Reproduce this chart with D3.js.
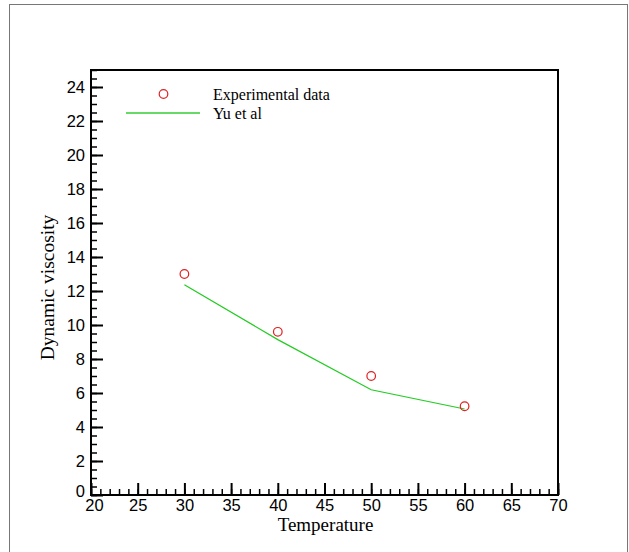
<!DOCTYPE html>
<html>
<head>
<meta charset="utf-8">
<script src="https://cdnjs.cloudflare.com/ajax/libs/d3/7.8.5/d3.min.js"></script>
<style>
  body { margin: 0; background: #fff; }
  .tick text { font-family: "Liberation Sans", Arial, sans-serif; font-size: 16.5px; fill: #000; }
  .serif { font-family: "Liberation Serif", "Times New Roman", serif; fill: #000; }
</style>
</head>
<body>
<svg class="chart"></svg>
<script>
var width = 629,
    height = 552;

// data
var temps = [30, 40, 50, 60];
var experimental = [13.0, 9.6, 7.0, 5.22];
var yuEtAl = [12.37, 9.14, 6.19, 5.06];
var xTicks = [20, 25, 30, 35, 40, 45, 50, 55, 60, 65, 70];
var yTicks = [0, 2, 4, 6, 8, 10, 12, 14, 16, 18, 20, 22, 24];

var plotLeft = 91, plotRight = 558, plotTop = 70, plotBottom = 495;

var xscale = d3.scaleLinear().domain([20, 70]).range([plotLeft, plotRight]);
var yscale = d3.scaleLinear().domain([0, 25]).range([plotBottom, plotTop]);

var chart = d3.select(".chart")
    .attr("width", width)
    .attr("height", height);

// outer page frame
chart.append("rect")
  .attr("x", 9.5).attr("y", 4.5)
  .attr("width", 618).attr("height", 560)
  .attr("fill", "none")
  .attr("stroke", "#777")
  .attr("stroke-width", 1);

// minor ticks
chart.append("g")
  .attr("transform", "translate(0," + plotBottom + ")")
  .call(d3.axisBottom(xscale).tickValues(d3.range(20, 71, 1)).tickSize(-6).tickFormat(""))
  .call(function(g) { g.select(".domain").remove(); })
  .selectAll("line").attr("stroke-width", 1.5);

chart.append("g")
  .attr("transform", "translate(" + plotLeft + ",0)")
  .call(d3.axisLeft(yscale).tickValues(d3.range(0, 25.01, 0.5)).tickSize(-6).tickFormat(""))
  .call(function(g) { g.select(".domain").remove(); })
  .selectAll("line").attr("stroke-width", 1.5);

// major ticks + labels
var xAxis = chart.append("g")
  .attr("transform", "translate(0," + plotBottom + ")")
  .call(d3.axisBottom(xscale).tickValues(xTicks).tickSizeInner(-12).tickSizeOuter(0).tickPadding(4));
xAxis.selectAll("line").attr("stroke-width", 2);
xAxis.selectAll("text").filter(function(d) { return d == 20; }).attr("dx", "3");

var yAxis = chart.append("g")
  .attr("transform", "translate(" + plotLeft + ",0)")
  .call(d3.axisLeft(yscale).tickValues(yTicks).tickSizeInner(-12).tickSizeOuter(0).tickPadding(6));
yAxis.selectAll("line").attr("stroke-width", 2);
yAxis.selectAll("text").filter(function(d) { return d == 0; }).attr("dy", "0.1em");

chart.selectAll(".domain").remove();

// plot frame
chart.append("rect")
  .attr("x", plotLeft).attr("y", plotTop)
  .attr("width", plotRight - plotLeft).attr("height", plotBottom - plotTop)
  .attr("fill", "none")
  .attr("stroke", "#000")
  .attr("stroke-width", 2);

// Yu et al line
var line = d3.line()
  .x(function(d, i) { return xscale(temps[i]); })
  .y(function(d) { return yscale(d); });

chart.append("path")
  .datum(yuEtAl)
  .attr("d", line)
  .attr("fill", "none")
  .attr("stroke", "#22cc22")
  .attr("stroke-width", 1.2);

// experimental points
chart.selectAll(".pt")
  .data(experimental)
  .enter().append("circle")
  .attr("class", "pt")
  .attr("cx", function(d, i) { return xscale(temps[i]); })
  .attr("cy", function(d) { return yscale(d); })
  .attr("r", 4.3)
  .attr("fill", "none")
  .attr("stroke", "#e02020")
  .attr("stroke-width", 1.2);

// legend
chart.append("circle")
  .attr("cx", 163.5).attr("cy", 94)
  .attr("r", 4.3)
  .attr("fill", "none")
  .attr("stroke", "#e02020")
  .attr("stroke-width", 1.2);
chart.append("text").attr("class", "serif")
  .attr("x", 213).attr("y", 99.5)
  .style("font-size", "16px")
  .text("Experimental data");

chart.append("line")
  .attr("x1", 126).attr("x2", 200)
  .attr("y1", 113).attr("y2", 113)
  .attr("stroke", "#33cc33")
  .attr("stroke-width", 1.4);
chart.append("text").attr("class", "serif")
  .attr("x", 213).attr("y", 118.5)
  .style("font-size", "16px")
  .text("Yu et al");

// axis titles
chart.append("text").attr("class", "serif")
  .attr("x", (plotLeft + plotRight) / 2 + 1).attr("y", 531)
  .attr("text-anchor", "middle")
  .style("font-size", "19px")
  .text("Temperature");

chart.append("text").attr("class", "serif")
  .attr("transform", "translate(54," + 287.5 + ") rotate(-90)")
  .attr("text-anchor", "middle")
  .style("font-size", "19.5px")
  .text("Dynamic viscosity");
</script>
</body>
</html>
